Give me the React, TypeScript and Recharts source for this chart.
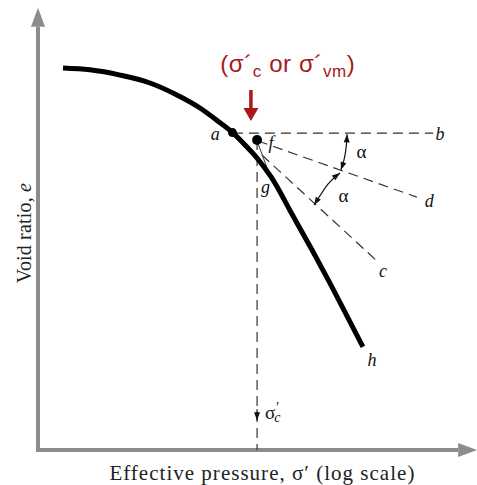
import React from 'react';
import { ComposedChart, Line, XAxis, YAxis, ReferenceDot } from 'recharts';

type Pt = { x: number; y: number };
type Lbl = { x: number; y: number; t: string };

// Compression curve (x: log effective pressure, y: void ratio), normalized units
const curveData: Pt[] = [
  { x: 5.7, y: 87.0 }, { x: 11.8, y: 86.6 }, { x: 18.7, y: 85.4 }, { x: 25.5, y: 83.6 },
  { x: 31.2, y: 81.1 }, { x: 36.9, y: 77.9 }, { x: 41.0, y: 74.9 }, { x: 44.2, y: 72.4 },
  { x: 47.15, y: 69.5 }, { x: 49.9, y: 66.5 }, { x: 53.1, y: 62.2 }, { x: 58.1, y: 53.3 },
  { x: 62.4, y: 45.6 }, { x: 66.5, y: 38.0 }, { x: 70.4, y: 30.5 }, { x: 74.0, y: 23.5 },
];

const axesData: Pt[] = [{ x: 0, y: 96.4 }, { x: 0, y: 0 }, { x: 95.7, y: 0 }];
const lineAB: Pt[] = [{ x: 44.4, y: 72.2 }, { x: 90.0, y: 72.2 }];
const lineFD: Pt[] = [{ x: 50.1, y: 70.4 }, { x: 86.3, y: 57.6 }];
const lineFC: Pt[] = [{ x: 51.0, y: 67.2 }, { x: 77.7, y: 42.6 }];
const lineFG: Pt[] = [{ x: 49.9, y: 70.4 }, { x: 52.2, y: 64.2 }];
const lineVert: Pt[] = [{ x: 49.9, y: 70.6 }, { x: 49.9, y: 0 }];
const arrowSigma: Pt[] = [{ x: 49.9, y: 9.3 }, { x: 49.9, y: 6.8 }];
const arc1: Pt[] = [{ x: 70.4, y: 71.9 }, { x: 70.2, y: 69.0 }, { x: 69.7, y: 66.1 }, { x: 69.0, y: 63.8 }];
const arc2: Pt[] = [{ x: 68.8, y: 63.1 }, { x: 66.1, y: 60.6 }, { x: 62.9, y: 55.8 }];
const redArrow: Pt[] = [{ x: 48.5, y: 82.0 }, { x: 48.5, y: 77.9 }];

const pointA: Pt = { x: 44.3, y: 72.3 };
const pointF: Pt = { x: 49.9, y: 70.6 };

const letterLabels: Lbl[] = [
  { x: 40.4, y: 70.7, t: 'a' },
  { x: 53.1, y: 68.6, t: 'f' },
  { x: 51.8, y: 58.5, t: 'g' },
  { x: 91.6, y: 70.7, t: 'b' },
  { x: 89.1, y: 55.4, t: 'd' },
  { x: 78.6, y: 39.4, t: 'c' },
  { x: 76.1, y: 19.1, t: 'h' },
];
const alphaLabels: Lbl[] = [
  { x: 73.7, y: 66.5, t: 'α' },
  { x: 69.6, y: 56.5, t: 'α' },
];
const sigmaLabelPos: Pt = { x: 51.7, y: 7.06 };
const redLabelPos: Pt = { x: 56.9, y: 86.1 };
const xTitlePos: Pt = { x: 51.0, y: -6.8 };
const yTitlePos: Pt = { x: -1.6, y: 49.4 };
const xTitle = 'Effective pressure, σ′ (log scale)';
const yTitle = 'Void ratio, ';

const SERIF = "'Liberation Serif', 'Times New Roman', serif";
const SANS = "'Liberation Sans', Arial, sans-serif";
const RED = '#a8181d';
const DASH_COLOR = '#333';

const textShape = (render: (cx: number, cy: number) => React.ReactElement) => (props: any) =>
  render(props.cx, props.cy);

export default function App() {
  return (
    <div style={{ position: 'absolute', left: 0, top: 0, width: 477, height: 485, background: '#fff' }}>
      <svg width={0} height={0} style={{ position: 'absolute' }}>
        <defs>
          <marker id="axHead" markerUnits="userSpaceOnUse" markerWidth={20} markerHeight={14}
            refX={0} refY={7} orient="auto-start-reverse" overflow="visible">
            <path d="M0,0 L19,7 L0,14 z" fill="#8c8c8c" />
          </marker>
          <marker id="smallHead" markerUnits="userSpaceOnUse" markerWidth={9} markerHeight={7}
            refX={8} refY={3} orient="auto-start-reverse" overflow="visible">
            <path d="M0,0 L8,3 L0,6 z" fill="#111" />
          </marker>
          <marker id="sigHead" markerUnits="userSpaceOnUse" markerWidth={9} markerHeight={7}
            refX={8} refY={3} orient="auto" overflow="visible">
            <path d="M0,0 L8,3 L0,6 z" fill="#111" />
          </marker>
          <marker id="redHead" markerUnits="userSpaceOnUse" markerWidth={14} markerHeight={16}
            refX={0} refY={7.5} orient="auto" overflow="visible">
            <path d="M0,0 L13,7.5 L0,15 z" fill={RED} />
          </marker>
        </defs>
      </svg>
      <ComposedChart width={477} height={485} margin={{ top: 11, right: 0, bottom: 35, left: 38 }}>
        <XAxis type="number" dataKey="x" domain={[0, 100]} hide />
        <YAxis type="number" dataKey="y" domain={[0, 100]} hide />

        <Line data={axesData} dataKey="y" type="linear" stroke="#8c8c8c" strokeWidth={4}
          dot={false} activeDot={false} isAnimationActive={false}
          markerStart="url(#axHead)" markerEnd="url(#axHead)" strokeLinejoin="miter" />

        <Line data={lineAB} dataKey="y" type="linear" stroke={DASH_COLOR} strokeWidth={1.2}
          strokeDasharray="10 6" dot={false} activeDot={false} isAnimationActive={false} />
        <Line data={lineFD} dataKey="y" type="linear" stroke={DASH_COLOR} strokeWidth={1.2}
          strokeDasharray="10 6" dot={false} activeDot={false} isAnimationActive={false} />
        <Line data={lineFC} dataKey="y" type="linear" stroke={DASH_COLOR} strokeWidth={1.2}
          strokeDasharray="10 6" dot={false} activeDot={false} isAnimationActive={false} />
        <Line data={lineVert} dataKey="y" type="linear" stroke={DASH_COLOR} strokeWidth={1.2}
          strokeDasharray="10 6" dot={false} activeDot={false} isAnimationActive={false} />
        <Line data={lineFG} dataKey="y" type="linear" stroke={DASH_COLOR} strokeWidth={1}
          dot={false} activeDot={false} isAnimationActive={false} />
        <Line data={arrowSigma} dataKey="y" type="linear" stroke="#111" strokeWidth={1.2}
          dot={false} activeDot={false} isAnimationActive={false} markerEnd="url(#sigHead)" />
        <Line data={arc1} dataKey="y" type="natural" stroke="#111" strokeWidth={1.2}
          dot={false} activeDot={false} isAnimationActive={false}
          markerStart="url(#smallHead)" markerEnd="url(#smallHead)" />
        <Line data={arc2} dataKey="y" type="natural" stroke="#111" strokeWidth={1.2}
          dot={false} activeDot={false} isAnimationActive={false}
          markerStart="url(#smallHead)" markerEnd="url(#smallHead)" />

        <Line data={curveData} dataKey="y" type="monotone" stroke="#000" strokeWidth={5}
          dot={false} activeDot={false} isAnimationActive={false} />

        <Line data={redArrow} dataKey="y" type="linear" stroke={RED} strokeWidth={3.5}
          dot={false} activeDot={false} isAnimationActive={false} markerEnd="url(#redHead)" />

        <ReferenceDot x={pointA.x} y={pointA.y} r={4.5} fill="#000" stroke="none" ifOverflow="visible" />
        <ReferenceDot x={pointF.x} y={pointF.y} r={5} fill="#000" stroke="none" ifOverflow="visible" />

        {letterLabels.map((l, i) => (
          <ReferenceDot key={'l' + i} x={l.x} y={l.y} r={1} ifOverflow="visible"
            shape={textShape((cx, cy) => (
              <text x={cx} y={cy} textAnchor="middle" fontFamily={SERIF} fontStyle="italic"
                fontSize={18} fill="#111">{l.t}</text>
            ))} />
        ))}
        {alphaLabels.map((l, i) => (
          <ReferenceDot key={'al' + i} x={l.x} y={l.y} r={1} ifOverflow="visible"
            shape={textShape((cx, cy) => (
              <text x={cx} y={cy} textAnchor="middle" fontFamily={SERIF}
                fontSize={19} fill="#111">{l.t}</text>
            ))} />
        ))}
        <ReferenceDot x={sigmaLabelPos.x} y={sigmaLabelPos.y} r={1} ifOverflow="visible"
          shape={textShape((cx, cy) => (
            <text x={cx} y={cy} fontFamily={SERIF} fontSize={19} fill="#111">
              σ<tspan fontStyle="italic" fontSize={14} dy={-7}>′</tspan>
              <tspan fontStyle="italic" fontSize={14} dx={-4} dy={10}>c</tspan>
            </text>
          ))} />
        <ReferenceDot x={redLabelPos.x} y={redLabelPos.y} r={1} ifOverflow="visible"
          shape={textShape((cx, cy) => (
            <text x={cx} y={cy} textAnchor="middle" fontFamily={SANS} fontSize={24} fill={RED}
              letterSpacing={0.6}>
              (σ´<tspan fontSize={17} dy={5}>c</tspan>
              <tspan dy={-5}> or σ´</tspan>
              <tspan fontSize={17} dy={5}>vm</tspan>
              <tspan dy={-5}>)</tspan>
            </text>
          ))} />
        <ReferenceDot x={xTitlePos.x} y={xTitlePos.y} r={1} ifOverflow="visible"
          shape={textShape((cx, cy) => (
            <text x={cx} y={cy} textAnchor="middle" fontFamily={SERIF} fontSize={21} fill="#222"
              textLength={305} lengthAdjust="spacing">
              {xTitle}
            </text>
          ))} />
        <ReferenceDot x={yTitlePos.x} y={yTitlePos.y} r={1} ifOverflow="visible"
          shape={textShape((cx, cy) => (
            <text x={cx} y={cy} textAnchor="middle" fontFamily={SERIF} fontSize={20} fill="#222"
              transform={`rotate(-90 ${cx} ${cy})`} textLength={100} lengthAdjust="spacing">
              {yTitle}<tspan fontStyle="italic">e</tspan>
            </text>
          ))} />
      </ComposedChart>
    </div>
  );
}
